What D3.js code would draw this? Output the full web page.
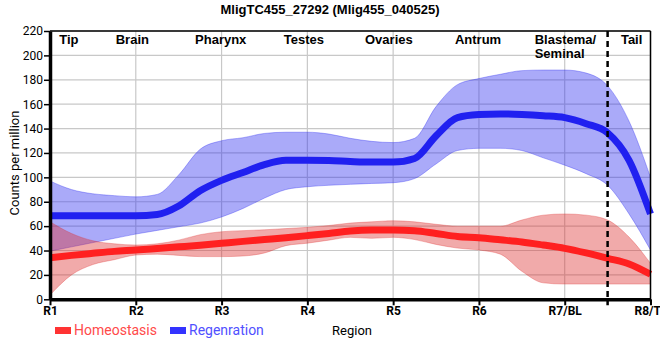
<!DOCTYPE html>
<html>
<head>
<meta charset="utf-8">
<script src="https://cdn.jsdelivr.net/npm/d3@7"></script>
<style>
  body { margin: 0; background: #fff; }
  svg text { font-family: "Liberation Sans", Arial, sans-serif; }
</style>
</head>
<body>
<div id="chart"></div>
<script>
// region ticks along the body
var regions = ["R1", "R2", "R3", "R4", "R5", "R6", "R7/BL", "R8/TL"];
var tissueLabels = ["Tip", "Brain", "Pharynx", "Testes", "Ovaries", "Antrum", "Blastema/|Seminal", "Tail"];
var tissuePos = [0.22, 0.96, 1.99, 2.96, 3.95, 4.99, 6.0, 6.78];
var yTicks = [0, 20, 40, 60, 80, 100, 120, 140, 160, 180, 200, 220];

// sampled positions along the region axis (region index units)
var pos = [0, 0.25, 0.5, 0.75, 1, 1.25, 1.5, 1.75, 2, 2.25, 2.5, 2.75, 3, 3.25, 3.5,
           3.75, 4, 4.25, 4.5, 4.75, 5, 5.25, 5.5, 5.75, 6, 6.25, 6.5, 6.75, 7];

var regenMean = [68.5, 68.5, 68.5, 68.5, 68.5, 69.5, 76.5, 89, 97.5, 104, 110.5, 114, 114, 113.8, 113,
                 112.5, 112.5, 115.5, 134, 149, 151.5, 152, 151.5, 150.5, 149, 144, 136.5, 114, 70];
var regenHigh = [97, 90, 86.5, 85, 84, 86, 102, 123, 130, 132.5, 136, 137, 137, 135.5, 132,
                 129.5, 128.5, 132, 158, 176, 181, 184.5, 187.5, 188, 188, 185.5, 175, 146, 100];
var regenLow = [39.5, 43, 46.5, 50, 53.5, 56.5, 59.5, 62.5, 67.5, 74.5, 83, 90, 92.3, 93.5, 94.3,
                95, 95.6, 99, 111, 122, 123.8, 123.8, 122, 116, 110, 103, 93.5, 70, 40.4];

var homeoMean = [34, 36, 37.7, 39.3, 40.4, 41.7, 43, 44.3, 45.9, 47.5, 49, 50.5, 52.2, 54, 56,
                 56.8, 56.8, 56.3, 54, 51.5, 50.5, 48.8, 47, 44.5, 41.8, 38, 33.6, 29, 20.5];
var homeoHigh = [63.6, 54, 48, 45.5, 44.5, 45.5, 48.5, 53, 55.4, 56.3, 57, 58, 59, 60.5, 62.5,
                 63.5, 64.4, 63.5, 61.5, 60, 60, 60, 65, 69, 70, 69, 65, 51, 29.5];
var homeoLow = [3.5, 20, 28.5, 32.5, 36.3, 37, 36, 35, 35, 35.5, 38, 44, 46, 48.5, 50.8,
                50, 50.8, 49, 45, 42, 40.4, 37, 23, 13.5, 12.5, 12.5, 12.5, 12.5, 12.5];

var blastemaCut = 6.5;

var width = 660, height = 360;
var margin = {top: 31, right: 10, bottom: 61, left: 50};

var svg = d3.select("#chart")
  .append("svg")
  .attr("width", width)
  .attr("height", height);

var x = d3.scaleLinear().domain([0, 7]).range([margin.left, 650.5]);
var y = d3.scaleLinear().domain([0, 220]).range([299.3, margin.top]);

// grid
svg.append("g")
  .selectAll("line.h")
  .data(yTicks)
  .join("line")
  .attr("x1", x(0)).attr("x2", x(7))
  .attr("y1", function(d) { return y(d); })
  .attr("y2", function(d) { return y(d); })
  .attr("stroke", "#c8c8c8").attr("stroke-width", 1.2);

svg.append("g")
  .selectAll("line.v")
  .data(regions)
  .join("line")
  .attr("x1", function(d, i) { return x(i); })
  .attr("x2", function(d, i) { return x(i); })
  .attr("y1", y(220)).attr("y2", y(0))
  .attr("stroke", "#c8c8c8").attr("stroke-width", 1.2);

function rows(mean, lo, hi) {
  return pos.map(function(p, i) { return {p: p, m: mean[i], lo: lo[i], hi: hi[i]}; });
}
var regen = rows(regenMean, regenLow, regenHigh);
var homeo = rows(homeoMean, homeoLow, homeoHigh);

var band = d3.area()
  .x(function(d) { return x(d.p); })
  .y0(function(d) { return y(d.lo); })
  .y1(function(d) { return y(d.hi); })
  .curve(d3.curveMonotoneX);

var line = d3.line()
  .x(function(d) { return x(d.p); })
  .y(function(d) { return y(d.m); })
  .curve(d3.curveMonotoneX);

// bands
svg.append("path").datum(regen).attr("d", band)
  .attr("fill", "#2a2af0").attr("fill-opacity", 0.4)
  .attr("stroke", "#2a2af0").attr("stroke-opacity", 0.35).attr("stroke-width", 1);
svg.append("path").datum(homeo).attr("d", band)
  .attr("fill", "#dd2a2a").attr("fill-opacity", 0.4)
  .attr("stroke", "#dd2a2a").attr("stroke-opacity", 0.3).attr("stroke-width", 1);

// mean lines
svg.append("path").datum(regen).attr("d", line)
  .attr("fill", "none").attr("stroke", "#2020f0").attr("stroke-width", 7);
svg.append("path").datum(homeo).attr("d", line)
  .attr("fill", "none").attr("stroke", "#ff2020").attr("stroke-width", 7);

// frame top / right
svg.append("line").attr("x1", x(0)).attr("x2", x(7)).attr("y1", y(220)).attr("y2", y(220))
  .attr("stroke", "#000").attr("stroke-width", 1.5);
svg.append("line").attr("x1", x(7)).attr("x2", x(7)).attr("y1", y(220)).attr("y2", y(0))
  .attr("stroke", "#000").attr("stroke-width", 1.5);

// blastema / tail cut
svg.append("line")
  .attr("x1", x(blastemaCut)).attr("x2", x(blastemaCut))
  .attr("y1", y(220)).attr("y2", y(0) + 6)
  .attr("stroke", "#000").attr("stroke-width", 2.5)
  .attr("stroke-dasharray", "6,4");

// axes
var xAxis = svg.append("g")
  .attr("transform", "translate(0," + y(0) + ")")
  .call(d3.axisBottom(x).tickValues(d3.range(regions.length))
    .tickFormat(function(d) { return regions[d]; }).tickSize(6).tickSizeOuter(0));
xAxis.select(".domain").attr("stroke-width", 3.5);
xAxis.selectAll(".tick line").attr("stroke-width", 2);
xAxis.selectAll("text")
  .attr("dy", "0.6em")
  .style("font-family", "Roboto, sans-serif")
  .style("font-size", "12px").style("font-weight", "bold").attr("fill", "#000");

var yAxis = svg.append("g")
  .attr("transform", "translate(" + x(0) + ",0)")
  .call(d3.axisLeft(y).tickValues(yTicks).tickSize(6).tickSizeOuter(0));
yAxis.select(".domain").attr("stroke-width", 3.5);
yAxis.selectAll(".tick line").attr("stroke-width", 1.5);
yAxis.selectAll("text")
  .attr("x", -7)
  .style("font-family", "Roboto, sans-serif")
  .style("font-size", "12px").attr("fill", "#000");

// tissue labels along top
tissueLabels.forEach(function(t, i) {
  var parts = t.split("|");
  var txt = svg.append("text")
    .attr("x", x(tissuePos[i]))
    .attr("y", 44)
    .attr("text-anchor", parts.length > 1 ? "start" : "middle")
    .style("font-size", "13px").style("font-weight", "bold");
  if (parts.length > 1) txt.attr("x", x(tissuePos[i]) - 30);
  parts.forEach(function(p, j) {
    txt.append("tspan").attr("x", txt.attr("x")).attr("dy", j ? 14 : 0).text(p);
  });
});

// title
svg.append("text")
  .attr("x", 330).attr("y", 14)
  .attr("text-anchor", "middle")
  .style("font-size", "13px").style("font-weight", "bold")
  .text("MligTC455_27292 (Mlig455_040525)");

// axis titles
svg.append("text")
  .attr("transform", "translate(19,163) rotate(-90)")
  .attr("text-anchor", "middle")
  .style("font-family", "Roboto, sans-serif").style("font-size", "13px")
  .text("Counts per million");

svg.append("text")
  .attr("x", 352).attr("y", 335)
  .attr("text-anchor", "middle")
  .style("font-family", "Roboto, sans-serif").style("font-size", "13px")
  .text("Region");

// legend
var legend = [
  {name: "Homeostasis", color: "#ff3333", text: "#ff4a4a", x: 55},
  {name: "Regenration", color: "#3333ff", text: "#5050ff", x: 170}
];
legend.forEach(function(l) {
  svg.append("rect").attr("x", l.x).attr("y", 327).attr("width", 16).attr("height", 7).attr("fill", l.color);
  svg.append("text").attr("x", l.x + 19).attr("y", 335)
    .style("font-family", "Roboto, sans-serif").style("font-size", "14px")
    .attr("fill", l.text).text(l.name);
});
</script>
</body>
</html>
